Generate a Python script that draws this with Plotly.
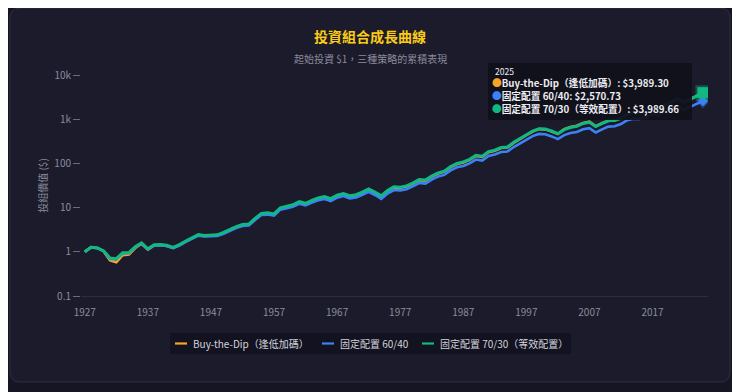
import plotly.graph_objects as go

years = list(range(1927, 2026))

btd = [1.00, 1.27, 1.22, 1.02, 0.64, 0.58, 0.84, 0.87, 1.22, 1.52,
       1.12, 1.40, 1.42, 1.36, 1.23, 1.41, 1.70, 1.99, 2.38, 2.28,
       2.31, 2.35, 2.67, 3.15, 3.59, 4.03, 4.12, 5.53, 7.18, 7.37,
       6.98, 9.60, 10.5, 11.3, 13.2, 12.1, 14.2, 16.1, 17.3, 15.5,
       18.6, 20.2, 18.0, 19.0, 21.7, 25.7, 21.8, 17.9, 23.8, 28.6,
       28.1, 30.1, 34.9, 41.7, 40.7, 50.4, 59.2, 65.0, 82.5, 97.0,
       104.8, 120.3, 147.4, 140.7, 179.5, 194.0, 223.1, 228.0, 291.0, 349.0,
       437.0, 526.0, 596.0, 590.0, 535.0, 470.0, 592.0, 668.0, 712.0, 822.0,
       876.0, 692.0, 808.0, 925.0, 942.0, 1050, 1300, 1420, 1400, 1520,
       1800, 1720, 2120, 2450, 2900, 2400, 2900, 3350, 3989.30]

fixed_6040 = [1.00, 1.25, 1.21, 1.04, 0.69, 0.67, 0.91, 0.93, 1.26, 1.55,
              1.13, 1.40, 1.41, 1.35, 1.21, 1.39, 1.67, 1.95, 2.32, 2.22,
              2.24, 2.27, 2.57, 3.03, 3.44, 3.84, 3.93, 5.25, 6.78, 6.95,
              6.58, 9.00, 9.78, 10.5, 12.2, 11.2, 13.0, 14.7, 15.7, 14.1,
              16.8, 18.2, 16.2, 17.0, 19.4, 22.8, 19.3, 15.8, 20.8, 25.0,
              24.5, 26.1, 30.2, 35.9, 35.0, 43.1, 50.3, 55.0, 69.5, 81.5,
              87.7, 100.2, 122.0, 116.0, 147.5, 158.8, 181.8, 185.0, 235.0, 280.0,
              348.0, 415.0, 465.0, 455.0, 408.0, 355.0, 436.0, 487.0, 515.0, 594.0,
              628.0, 500.0, 590.0, 680.0, 693.0, 775.0, 950.0, 1030.0, 1015.0, 1095.0,
              1290.0, 1220.0, 1490.0, 1700.0, 1990.0, 1630.0, 1940.0, 2220.0, 2570.73]

fixed_7030 = [1.00, 1.27, 1.22, 1.05, 0.72, 0.70, 0.95, 0.96, 1.30, 1.60,
              1.17, 1.45, 1.46, 1.40, 1.26, 1.45, 1.75, 2.05, 2.45, 2.35,
              2.38, 2.42, 2.75, 3.25, 3.70, 4.15, 4.25, 5.70, 7.40, 7.60,
              7.20, 9.90, 10.8, 11.6, 13.6, 12.5, 14.6, 16.6, 17.8, 16.0,
              19.2, 20.8, 18.6, 19.6, 22.4, 26.5, 22.5, 18.5, 24.5, 29.5,
              29.0, 31.0, 36.0, 43.0, 42.0, 52.0, 61.0, 67.0, 85.0, 100.0,
              108.0, 124.0, 152.0, 145.0, 185.0, 200.0, 230.0, 235.0, 300.0, 360.0,
              450.0, 540.0, 610.0, 600.0, 540.0, 470.0, 580.0, 650.0, 690.0, 800.0,
              850.0, 680.0, 800.0, 920.0, 940.0, 1050.0, 1300.0, 1420.0, 1400.0, 1520.0,
              1800.0, 1720.0, 2120.0, 2450.0, 2900.0, 2400.0, 2900.0, 3350.0, 3989.66]

names = ["Buy-the-Dip（逢低加碼）", "固定配置 60/40", "固定配置 70/30（等效配置）"]
colors = ["#f5a623", "#3b82f6", "#10b981"]
series = [btd, fixed_6040, fixed_7030]

y_tickvals = [0.1, 1, 10, 100, 1000, 10000]
y_ticktext = ["0.1", "1", "10", "100", "1k", "10k"]
x_tickvals = list(range(1927, 2026, 10))

FONT = "Noto Sans CJK TC, Noto Sans, sans-serif"
OUTER_BG = "#151523"
CARD_BG = "#1b1b2c"

# page has an 8px body offset: work in reference pixels, shifted by OFF
OFF = 8
W, H = 740, 392
ML, MT = 81 - OFF, 75 - OFF
PW, PH = 627, 221
MR, MB = W - ML - PW, H - MT - PH


def px(x):
    return (x - OFF - ML) / PW


def py(y):
    return (MT + PH - (y - OFF)) / PH


fig = go.Figure()
for name, color, vals, width in zip(names, colors, series, [2.6, 2.6, 3.0]):
    fig.add_trace(go.Scatter(
        x=years, y=vals, name=name, mode="lines", showlegend=False,
        line=dict(color=color, width=width),
    ))

# hover-highlight markers at the last year
fig.add_trace(go.Scatter(
    x=[years[-1]], y=[fixed_6040[-1]], mode="markers", showlegend=False,
    marker=dict(symbol="diamond", size=8, color=colors[1],
                line=dict(color="rgba(59,130,246,0.35)", width=3)),
))
fig.add_trace(go.Scatter(
    x=[years[-1]], y=[fixed_7030[-1]], mode="markers", showlegend=False,
    marker=dict(symbol="square", size=11, color=colors[2],
                line=dict(color="rgba(16,185,129,0.35)", width=4)),
))

# card background with rounded corners
x0, x1 = px(10), px(730)
y0, y1 = py(382), py(8)
rx, ry = 10 / PW, 10 / PH
path = (f"M {x0+rx},{y1} L {x1-rx},{y1} Q {x1},{y1} {x1},{y1-ry} "
        f"L {x1},{y0+ry} Q {x1},{y0} {x1-rx},{y0} L {x0+rx},{y0} "
        f"Q {x0},{y0} {x0},{y0+ry} L {x0},{y1-ry} Q {x0},{y1} {x0+rx},{y1} Z")
fig.add_shape(type="path", path=path, xref="paper", yref="paper",
              fillcolor=CARD_BG, line=dict(color="#2e2f40", width=1), layer="below")

# title & subtitle
fig.add_annotation(text="<b>投資組合成長曲線</b>", x=px(370), xref="paper",
                   y=py(36), yref="paper", showarrow=False, xanchor="center", yanchor="middle",
                   font=dict(family=FONT, size=14, color="#facc15"))
fig.add_annotation(text="起始投資 $1，三種策略的累積表現", x=px(370), xref="paper",
                   y=py(58), yref="paper", showarrow=False, xanchor="center", yanchor="middle",
                   font=dict(family=FONT, size=10, color="#8b8b9b"))

# tooltip (hover label reproduction): box + lines
fig.add_shape(type="rect", xref="paper", yref="paper",
              x0=px(488), x1=px(692), y0=py(120), y1=py(63),
              fillcolor="rgba(17,17,27,0.95)", line=dict(width=0), layer="above")
fig.add_annotation(text=str(years[-1]), x=px(494), xref="paper", y=py(71), yref="paper",
                   xanchor="left", yanchor="middle", showarrow=False, borderpad=0,
                   font=dict(family=FONT, size=8.5, color="#ececf2"))
tip_vals = [btd[-1], fixed_6040[-1], fixed_7030[-1]]
for i, (name, color, v) in enumerate(zip(names, colors, tip_vals)):
    yy = 83 + 13 * i
    fig.add_annotation(
        text=f"<span style='color:{color}'>●</span><b>{name}: ${v:,.2f}</b>",
        x=px(491), xref="paper", y=py(yy), yref="paper", xanchor="left", yanchor="middle",
        showarrow=False, borderpad=0,
        font=dict(family=FONT, size=9.7, color="#ececf2"))

# legend (box, short line swatches, labels)
fig.add_shape(type="rect", xref="paper", yref="paper",
              x0=px(170), x1=px(571), y0=py(354), y1=py(333),
              fillcolor="#121220", line=dict(width=0), layer="below")
leg_sym = [(175, 187), (322, 334), (422, 434)]
leg_txt = [191, 338, 438]
for (sx0, sx1), tx, name, color in zip(leg_sym, leg_txt, names, colors):
    fig.add_shape(type="line", xref="paper", yref="paper",
                  x0=px(sx0), x1=px(sx1), y0=py(343.5), y1=py(343.5),
                  line=dict(color=color, width=2.2))
    fig.add_annotation(text=name, x=px(tx), xref="paper", y=py(343.5), yref="paper",
                       xanchor="left", yanchor="middle", showarrow=False,
                       font=dict(family=FONT, size=10, color="#d4d4dc"))

fig.update_layout(
    width=W, height=H,
    margin=dict(l=ML, r=MR, t=MT, b=MB),
    paper_bgcolor=OUTER_BG,
    plot_bgcolor="rgba(0,0,0,0)",
    font=dict(family=FONT, size=10, color="#8b8b9b"),
    showlegend=False,
    xaxis=dict(range=[1926.4, 2025.8], tickvals=x_tickvals, showgrid=False, zeroline=False,
               showline=True, linecolor="#2c2d3e", linewidth=1,
               ticks="outside", ticklen=7, tickcolor="rgba(0,0,0,0)",
               tickfont=dict(size=10, color="#8b8b9b")),
    yaxis=dict(type="log", range=[-1, 4], tickvals=y_tickvals, ticktext=y_ticktext,
               showgrid=False, zeroline=False, ticks="outside", ticklen=7,
               tickcolor="#6b6b7c", tickfont=dict(size=10, color="#8b8b9b"),
               title=dict(text="投組價值 ($)", font=dict(size=10, color="#8b8b9b"), standoff=4)),
)

fig.write_html("out.html")
